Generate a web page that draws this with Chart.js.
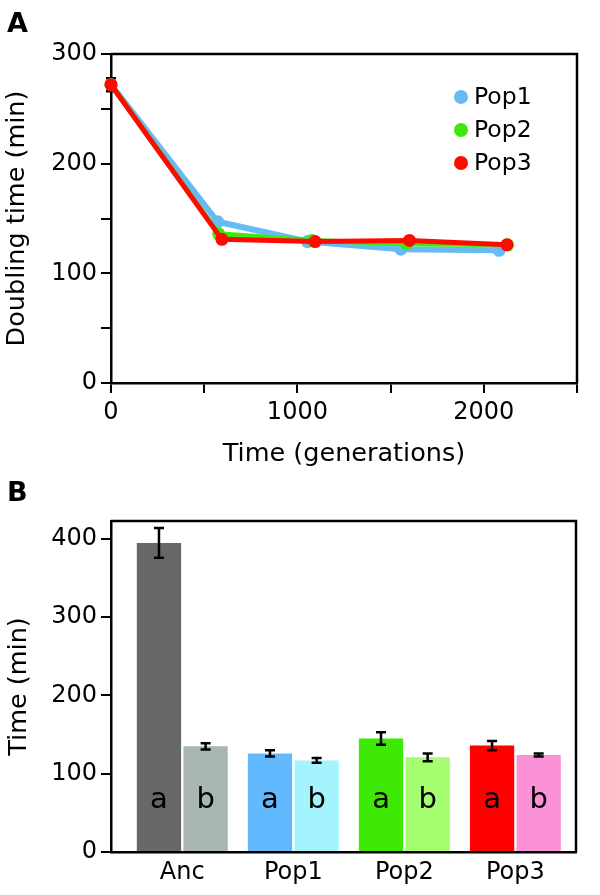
<!DOCTYPE html>
<html>
<head>
<meta charset="utf-8">
<script src="https://cdn.jsdelivr.net/npm/chart.js@4"></script>
<style>
body { margin: 0; background: #fff; }
#wrap { position: relative; width: 600px; height: 895px; }
#cA { position: absolute; left: 0; top: 0; }
#cB { position: absolute; left: 0; top: 475px; }
.panel { position: absolute; left: 7px; font: bold 27px "DejaVu Sans", Verdana, sans-serif; line-height: 27px; color: #000; }
</style>
</head>
<body>
<div id="wrap">
  <canvas id="cA" width="600" height="475"></canvas>
  <canvas id="cB" width="600" height="420"></canvas>
  <div class="panel" style="top:9px">A</div>
  <div class="panel" style="top:478px">B</div>
</div>
<script>
// panel A: doubling time over generations
const pop1Gen = [0, 572, 1054, 1555, 2082];
const pop1Time = [272, 147, 129, 122, 121];
const pop2Gen = [0, 578, 1078, 1585, 2128];
const pop2Time = [272, 136, 130, 127, 126];
const pop3Gen = [0, 595, 1095, 1601, 2124];
const pop3Time = [272, 131, 129, 130, 126];
const ancErr = 6;

// panel B: bars, a and b per group
const groups = ["Anc", "Pop1", "Pop2", "Pop3"];
const timeA = [395, 126, 145, 136];
const errA = [19, 4, 8, 6];
const timeB = [135, 117, 121, 124];
const errB = [4, 3, 5, 2];
const colorA = ["#676767", "#63b9fd", "#3eea05", "#ff0000"];
const colorB = ["#a7b6b3", "#a4f4fd", "#a5fd70", "#fb92d7"];

const FONT = "'DejaVu Sans', Verdana, sans-serif";
Chart.defaults.font.family = FONT;
Chart.defaults.color = "#000";

function pts(g, t) {
    return g.map((x, i) => ({ x: x, y: t[i] }));
}

// top + right edge of the plot box
const boxPlugin = {
    id: "box",
    afterDraw(chart) {
        const { ctx, chartArea: a } = chart;
        ctx.save();
        ctx.strokeStyle = "#000";
        ctx.lineWidth = 2.5;
        ctx.beginPath();
        ctx.moveTo(a.left, a.top);
        ctx.lineTo(a.right, a.top);
        ctx.lineTo(a.right, a.bottom);
        ctx.stroke();
        ctx.restore();
    }
};

function errBar(ctx, x, y1, y2, w) {
    ctx.beginPath();
    ctx.moveTo(x, y1); ctx.lineTo(x, y2);
    ctx.moveTo(x - w, y1); ctx.lineTo(x + w, y1);
    ctx.moveTo(x - w, y2); ctx.lineTo(x + w, y2);
    ctx.stroke();
}

const ancErrPlugin = {
    id: "ancErr",
    beforeDatasetsDraw(chart) {
        const { ctx, scales } = chart;
        const x = scales.x.getPixelForValue(pop3Gen[0]);
        ctx.save();
        ctx.strokeStyle = "#000";
        ctx.lineWidth = 2.5;
        errBar(ctx, x, scales.y.getPixelForValue(pop3Time[0] + ancErr),
            scales.y.getPixelForValue(pop3Time[0] - ancErr), 5);
        ctx.restore();
    }
};

const legendA = {
    id: "legendA",
    afterDraw(chart) {
        const ctx = chart.ctx;
        const a = chart.chartArea;
        ctx.save();
        ctx.font = "23.5px " + FONT;
        ctx.textBaseline = "middle";
        chart.data.datasets.forEach((ds, i) => {
            const y = a.top + 43 + i * 33;
            const x = a.right - 116;
            ctx.fillStyle = ds.borderColor;
            ctx.beginPath();
            ctx.arc(x, y, 7, 0, Math.PI * 2);
            ctx.fill();
            ctx.fillStyle = "#000";
            ctx.fillText(ds.label, x + 13, y + 1);
        });
        ctx.restore();
    }
};

new Chart(document.getElementById("cA"), {
    type: "line",
    data: {
        datasets: [
            { label: "Pop1", data: pts(pop1Gen, pop1Time), borderColor: "#66bbf5", backgroundColor: "#66bbf5", borderWidth: 6, pointRadius: 6.5, order: 2 },
            { label: "Pop2", data: pts(pop2Gen, pop2Time), borderColor: "#3fe80c", backgroundColor: "#3fe80c", borderWidth: 5, pointRadius: 6.5, order: 1 },
            { label: "Pop3", data: pts(pop3Gen, pop3Time), borderColor: "#ff0a00", backgroundColor: "#ff0a00", borderWidth: 5, pointRadius: 6.5, order: 0 }
        ]
    },
    options: {
        responsive: false,
        animation: false,
        datasets: { line: { clip: false, tension: 0, pointBorderWidth: 0 } },
        layout: { padding: { top: 54, right: 23, left: 0, bottom: 0 } },
        plugins: { legend: { display: false }, tooltip: { enabled: false } },
        scales: {
            x: {
                type: "linear", min: 0, max: 2500,
                ticks: { stepSize: 500, autoSkip: false, maxRotation: 0, padding: 5, font: { size: 24 },
                    callback: v => (v % 1000 === 0 ? v : "") },
                grid: { drawOnChartArea: false, tickLength: 10, color: "#000", lineWidth: 2 },
                border: { color: "#000", width: 2.5 },
                title: { display: true, text: "Time (generations)", font: { size: 25.5 }, padding: { bottom: 5 } },
                afterFit: ax => { ax.height = 92; }
            },
            y: {
                min: 0, max: 300,
                ticks: { stepSize: 50, autoSkip: false, padding: 4, font: { size: 24 },
                    callback: v => (v % 100 === 0 ? v : "") },
                grid: { drawOnChartArea: false, tickLength: 10, color: "#000", lineWidth: 2 },
                border: { color: "#000", width: 2.5 },
                title: { display: true, text: "Doubling time (min)", font: { size: 25.5 }, padding: { top: 2 } },
                afterFit: ax => { ax.width = 111; }
            }
        }
    },
    plugins: [boxPlugin, ancErrPlugin, legendA]
});

// error bars and a/b letters on the bars
const barExtras = {
    id: "barExtras",
    afterDatasetsDraw(chart) {
        const { ctx, scales, chartArea } = chart;
        ctx.save();
        chart.data.datasets.forEach((ds, di) => {
            const meta = chart.getDatasetMeta(di);
            meta.data.forEach((el, i) => {
                const v = ds.data[i].y;
                ctx.strokeStyle = "#000";
                ctx.lineWidth = 2.5;
                errBar(ctx, el.x, scales.y.getPixelForValue(v + ds.err[i]),
                    scales.y.getPixelForValue(v - ds.err[i]), 5);
                ctx.fillStyle = "#000";
                ctx.font = "29px " + FONT;
                ctx.textAlign = "center";
                ctx.textBaseline = "alphabetic";
                ctx.fillText(ds.label, el.x, chartArea.bottom - 44);
            });
        });
        ctx.restore();
    }
};

new Chart(document.getElementById("cB"), {
    type: "bar",
    data: {
        datasets: [
            { label: "a", data: groups.map((g, i) => ({ x: i + 1, y: timeA[i] })), backgroundColor: colorA, err: errA },
            { label: "b", data: groups.map((g, i) => ({ x: i + 1, y: timeB[i] })), backgroundColor: colorB, err: errB }
        ]
    },
    options: {
        responsive: false,
        animation: false,
        categoryPercentage: 0.84,
        barPercentage: 0.95,
        layout: { padding: { top: 46, right: 24, left: 0, bottom: 0 } },
        plugins: { legend: { display: false }, tooltip: { enabled: false } },
        scales: {
            x: {
                type: "linear", min: 0.358, max: 4.546, offset: false,
                afterBuildTicks: ax => { ax.ticks = groups.map((g, i) => ({ value: i + 1 })); },
                ticks: { autoSkip: false, maxRotation: 0, padding: 6, font: { size: 24 },
                    callback: v => groups[v - 1] },
                grid: { drawOnChartArea: false, drawTicks: false },
                border: { color: "#000", width: 2.5 },
                afterFit: ax => { ax.height = 43; }
            },
            y: {
                min: 0, max: 423,
                ticks: { stepSize: 100, includeBounds: false, padding: 4, font: { size: 24 } },
                grid: { drawOnChartArea: false, tickLength: 10, color: "#000", lineWidth: 2 },
                border: { color: "#000", width: 2.5 },
                title: { display: true, text: "Time (min)", font: { size: 25.5 }, padding: { top: 4 } },
                afterFit: ax => { ax.width = 111; }
            }
        }
    },
    plugins: [boxPlugin, barExtras]
});
</script>
</body>
</html>
